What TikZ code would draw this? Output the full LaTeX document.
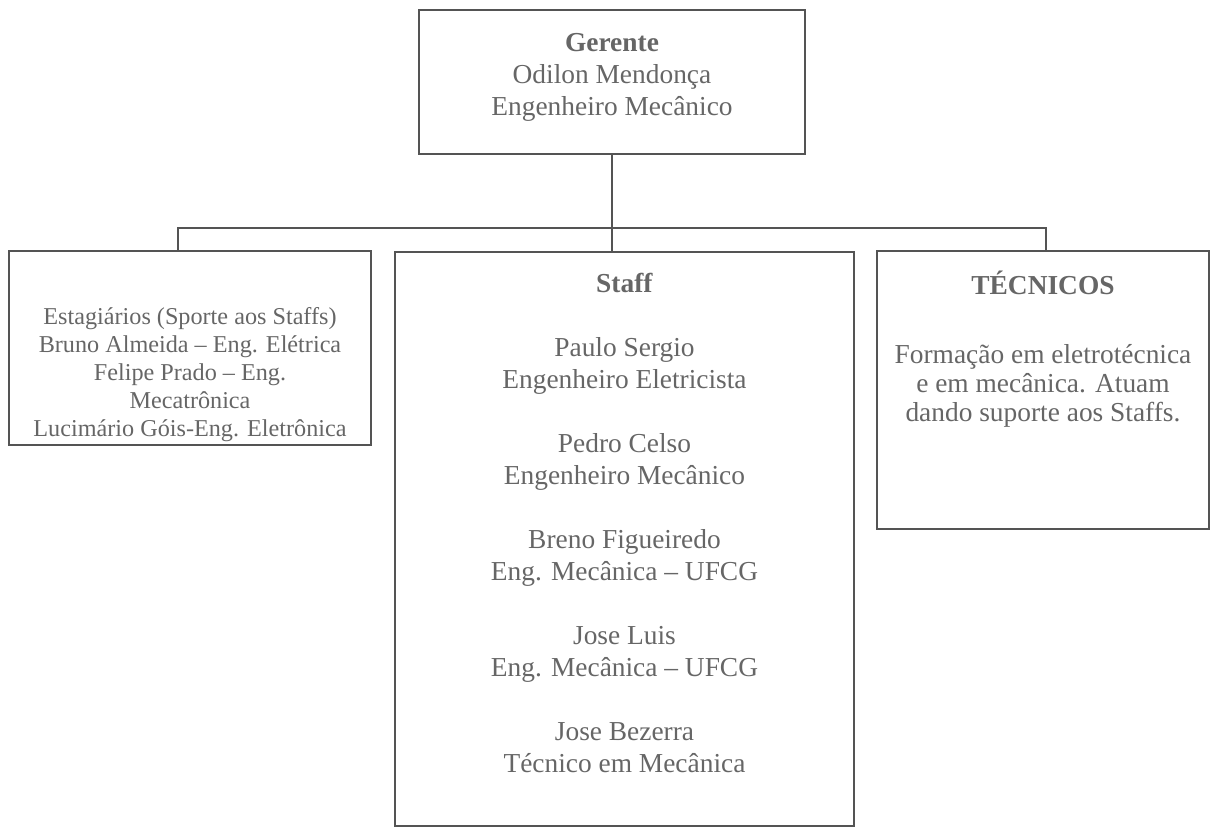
\documentclass[tikz,border=0pt]{standalone}
\usepackage{fontspec}
\setmainfont{Liberation Serif}
\usetikzlibrary{positioning, calc}

\definecolor{inkgray}{gray}{0.40}
\definecolor{linegray}{gray}{0.33}

\begin{document}
\begin{tikzpicture}[
  x=0.5pt, y=-0.5pt,
  % Define styles for different elements
  box/.style={draw=linegray, line width=0.7pt, minimum width=#1, inner sep=0pt},
  txt/.style={text=inkgray, align=center, inner sep=0pt, anchor=north,
    font=\fontsize{13.7}{16}\selectfont},
  smalltxt/.style={txt, font=\fontsize{12.1}{14}\selectfont},
  link/.style={draw=linegray, line width=0.7pt}
]

% Canvas
\useasboundingbox (0,0) rectangle (1211,828);

% Row 1: Manager
\node[box=193pt, minimum height=72pt] (gerente) at (612,82) {};
\node[txt] (gerente_txt) at ($(gerente.north) + (0,24)$)
  {\textbf{Gerente}\\Odilon Mendonça\\Engenheiro Mecânico};

% Row 2: Interns, Staff and Technicians
\node[box=181pt, minimum height=97pt] (estag) at (190,348) {};
\node[smalltxt] (estag_txt) at ($(estag.north) + (0,57)$)
  {Estagiários (Sporte aos Staffs)\\Bruno Almeida -- Eng. Elétrica\\Felipe Prado -- Eng.\\Mecatrônica\\Lucimário Góis-Eng. Eletrônica};

\node[box=229.5pt, minimum height=287pt] (staff) at (624.5,539) {};
\node[txt] (staff_txt) at ($(staff.north) + (0,22)$)
  {\textbf{Staff}\\[16pt]
   Paulo Sergio\\Engenheiro Eletricista\\[16pt]
   Pedro Celso\\Engenheiro Mecânico\\[16pt]
   Breno Figueiredo\\Eng. Mecânica -- UFCG\\[16pt]
   Jose Luis\\Eng. Mecânica -- UFCG\\[16pt]
   Jose Bezerra\\Técnico em Mecânica};

\node[box=166pt, minimum height=139pt] (tecnicos) at (1043,390) {};
\node[txt, font=\fontsize{13.7}{14.6}\selectfont] (tecnicos_txt) at ($(tecnicos.north) + (0,20)$)
  {\textbf{TÉCNICOS}\\[20pt]
   Formação em eletrotécnica\\e em mecânica. Atuam\\dando suporte aos Staffs.};

% Connections
\coordinate (bus_left) at (178,228);
\coordinate (bus_right) at (1046,228);

\draw[link] (gerente.south) -- (gerente.south |- staff.north);
\draw[link] (estag.north -| bus_left) -- (bus_left) -- (bus_right) -- (tecnicos.north -| bus_right);

\end{tikzpicture}
\end{document}
